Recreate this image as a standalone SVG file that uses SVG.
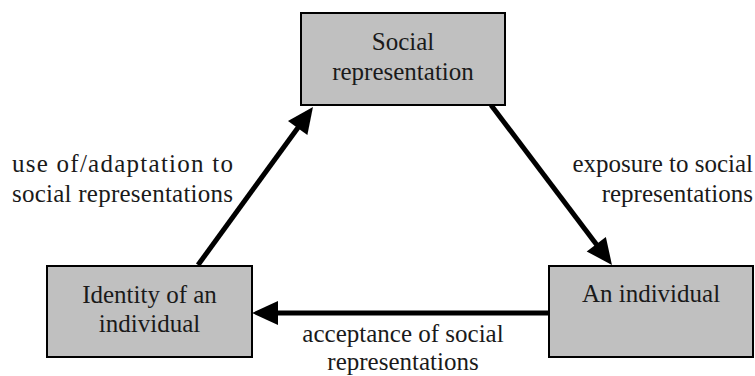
<svg xmlns="http://www.w3.org/2000/svg" width="755" height="376" viewBox="0 0 755 376">
  <style>
    .box { fill: #c0c0c0; stroke: #000; stroke-width: 2; }
    .t { font-family: "Liberation Serif", "Times New Roman", serif; font-size: 25px; fill: #1a1a1a; }
    .c { text-anchor: middle; }
    .r { text-anchor: end; }
    .edge { stroke: #000; stroke-width: 5; fill: none; marker-end: url(#ah); }
  </style>
  <defs>
    <marker id="ah" markerUnits="userSpaceOnUse" markerWidth="26" markerHeight="24" refX="6" refY="12" orient="auto" overflow="visible">
      <path d="M0,0 L26,12 L0,24 z" fill="#000"/>
    </marker>
  </defs>
  <rect width="755" height="376" fill="#fff"/>

  <g id="connectors">
    <line class="edge" x1="198" y1="265" x2="301.2" y2="123.2"/>
    <line class="edge" x1="491" y1="105" x2="599.9" y2="249"/>
    <line class="edge" x1="549" y1="313" x2="272" y2="313"/>
    <text class="t" x="12" y="172" textLength="221" lengthAdjust="spacing">use of/adaptation to</text>
    <text class="t" x="12" y="202" textLength="221" lengthAdjust="spacing">social representations</text>
    <text class="t r" x="753" y="172">exposure to social</text>
    <text class="t r" x="753" y="202">representations</text>
    <text class="t c" x="403" y="342">acceptance of social</text>
    <text class="t c" x="403" y="370">representations</text>
  </g>

  <g id="social-representation">
    <rect class="box" x="301" y="13" width="204" height="92"/>
    <text class="t c" x="403" y="50">Social</text>
    <text class="t c" x="403" y="80">representation</text>
  </g>

  <g id="identity">
    <rect class="box" x="47" y="266" width="205" height="91"/>
    <text class="t c" x="149.5" y="303">Identity of an</text>
    <text class="t c" x="149.5" y="332">individual</text>
  </g>

  <g id="an-individual">
    <rect class="box" x="549" y="266" width="204" height="91"/>
    <text class="t c" x="651" y="302">An individual</text>
  </g>
</svg>
